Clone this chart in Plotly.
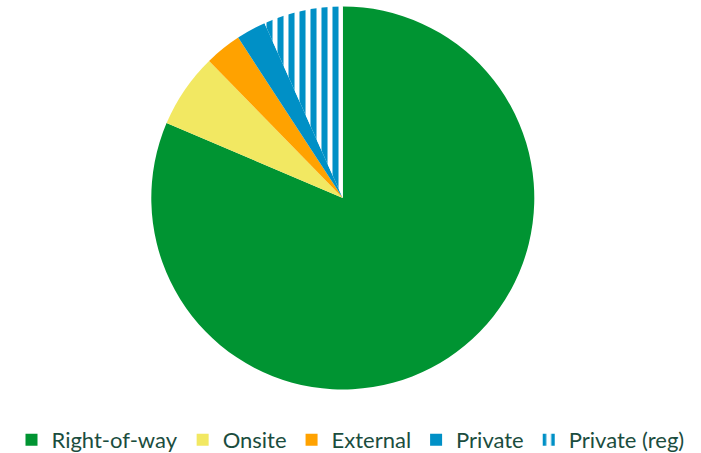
import plotly.graph_objects as go

labels = ["Right-of-way", "Onsite", "External", "Private", "Private (reg)"]
values = [81.4, 6.3, 3.1, 2.5, 6.7]
colors = ["#009432", "#F2E862", "#FFA200", "#0090C6", "#FFFFFF"]
shapes = ["", "", "", "", "|"]
fgcolors = ["#009432", "#F2E862", "#FFA200", "#0090C6", "#0090C6"]

cx, cy, r = 342.8, 198.0, 191.5
W, H = 701, 453

fig = go.Figure(go.Pie(
    labels=labels,
    values=values,
    sort=False,
    direction="clockwise",
    rotation=0,
    textinfo="none",
    hoverinfo="label+percent",
    marker=dict(
        colors=colors,
        line=dict(color="white", width=0),
        pattern=dict(shape=shapes, fgcolor=fgcolors, bgcolor=colors,
                     size=11, solidity=0.55, fillmode="replace"),
    ),
    domain=dict(x=[(cx - r) / W, (cx + r) / W],
                y=[max(0, 1 - (cy + r) / H), min(1, 1 - (cy - r) / H)]),
))

fig.update_layout(
    width=W, height=H,
    margin=dict(l=0, r=0, t=0, b=0, autoexpand=False),
    paper_bgcolor="white",
    plot_bgcolor="white",
    showlegend=True,
    legend=dict(
        orientation="h",
        yref="container",
        x=0.5, xanchor="center",
        y=(H - 440) / H, yanchor="middle",
        font=dict(family="Lato", size=22, color="#1B4D3E"),
        itemwidth=30,
        traceorder="normal",
        bgcolor="rgba(0,0,0,0)",
    ),
)

fig.write_html("out.html")
